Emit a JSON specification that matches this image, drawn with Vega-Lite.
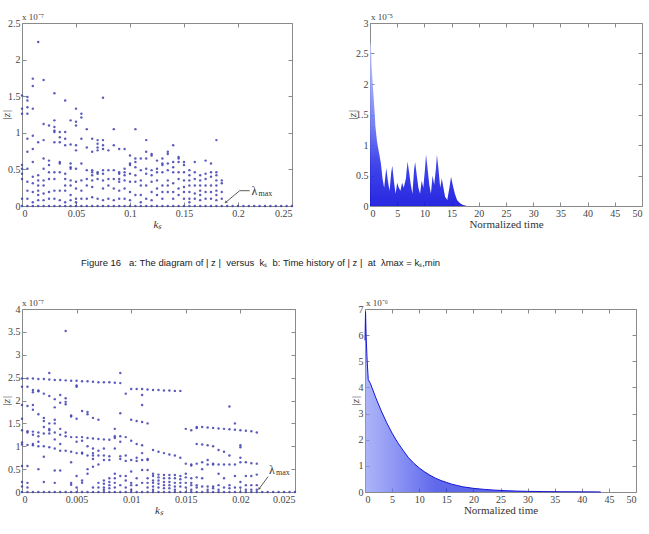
{
  "$schema": "https://vega.github.io/schema/vega-lite/v6.json",
  "padding": {"left": 0, "top": 12, "right": 0, "bottom": 0},
  "background": "white",
  "config": {
    "view": {"stroke": "#8a8a8a", "strokeWidth": 1},
    "axis": {"labelFont": "Liberation Serif", "labelFontSize": 10, "labelColor": "#444", "tickColor": "#8a8a8a", "domain": false, "grid": false, "tickSize": -4, "labelPadding": 6.5, "titleFont": "Liberation Serif", "titleFontSize": 11, "titleFontWeight": "normal", "titleColor": "#333", "titlePadding": 0, "format": "~g"},
    "axisY": {"titlePadding": -2, "labelPadding": 6},
    "text": {"font": "Liberation Serif"}
  },
  "datasets": {
    "tl": [
      {"k":0,"z":1.51},{"k":0,"z":1.33},{"k":0,"z":1.26},{"k":0,"z":0.56},{"k":0,"z":0.51},{"k":0,"z":0.44},{"k":0,"z":0.37},{"k":0,"z":0.10},
      {"k":0.005,"z":1.49},{"k":0.005,"z":1.44},{"k":0.005,"z":1.35},{"k":0.005,"z":1.26},{"k":0.005,"z":0.92},{"k":0.005,"z":0.74},{"k":0.005,"z":0.51},{"k":0.005,"z":0.33},{"k":0.005,"z":0.21},{"k":0.005,"z":0.10},
      {"k":0.01,"z":1.74},{"k":0.01,"z":1.64},{"k":0.01,"z":1.33},{"k":0.01,"z":0.96},{"k":0.01,"z":0.78},{"k":0.01,"z":0.60},{"k":0.01,"z":0.40},{"k":0.01,"z":0.31},{"k":0.01,"z":0.19},{"k":0.01,"z":0.05},
      {"k":0.015,"z":2.24},{"k":0.015,"z":0.87},{"k":0.015,"z":0.42},{"k":0.015,"z":0.35},{"k":0.015,"z":0.28},{"k":0.015,"z":0.21},{"k":0.015,"z":0.15},{"k":0.015,"z":0.08},
      {"k":0.02,"z":1.72},{"k":0.02,"z":1.12},{"k":0.02,"z":0.90},{"k":0.02,"z":0.65},{"k":0.02,"z":0.51},{"k":0.02,"z":0.35},{"k":0.02,"z":0.28},{"k":0.02,"z":0.17},{"k":0.02,"z":0.08},
      {"k":0.025,"z":1.10},{"k":0.025,"z":0.62},{"k":0.025,"z":0.56},{"k":0.025,"z":0.46},{"k":0.025,"z":0.37},{"k":0.025,"z":0.19},{"k":0.025,"z":0.10},
      {"k":0.03,"z":1.54},{"k":0.03,"z":1.17},{"k":0.03,"z":1.08},{"k":0.03,"z":1.03},{"k":0.03,"z":1.01},{"k":0.03,"z":0.87},{"k":0.03,"z":0.46},{"k":0.03,"z":0.37},{"k":0.03,"z":0.21},{"k":0.03,"z":0.10},
      {"k":0.035,"z":1.01},{"k":0.035,"z":0.94},{"k":0.035,"z":0.87},{"k":0.035,"z":0.60},{"k":0.035,"z":0.58},{"k":0.035,"z":0.46},{"k":0.035,"z":0.21},{"k":0.035,"z":0.08},
      {"k":0.04,"z":1.44},{"k":0.04,"z":1.01},{"k":0.04,"z":0.92},{"k":0.04,"z":0.83},{"k":0.04,"z":0.44},{"k":0.04,"z":0.37},{"k":0.04,"z":0.28},{"k":0.04,"z":0.21},{"k":0.04,"z":0.05},
      {"k":0.045,"z":1.17},{"k":0.045,"z":0.84},{"k":0.045,"z":0.58},{"k":0.045,"z":0.53},{"k":0.045,"z":0.51},{"k":0.045,"z":0.35},{"k":0.045,"z":0.28},{"k":0.045,"z":0.15},{"k":0.045,"z":0.08},
      {"k":0.05,"z":1.33},{"k":0.05,"z":1.15},{"k":0.05,"z":1.10},{"k":0.05,"z":0.83},{"k":0.05,"z":0.76},{"k":0.05,"z":0.51},{"k":0.05,"z":0.33},{"k":0.05,"z":0.24},{"k":0.05,"z":0.10},{"k":0.05,"z":0.05},
      {"k":0.055,"z":1.26},{"k":0.055,"z":1.21},{"k":0.055,"z":0.92},{"k":0.055,"z":0.58},{"k":0.055,"z":0.35},{"k":0.055,"z":0.21},{"k":0.055,"z":0.10},
      {"k":0.06,"z":1.05},{"k":0.06,"z":0.80},{"k":0.06,"z":0.49},{"k":0.06,"z":0.37},{"k":0.06,"z":0.28},{"k":0.06,"z":0.10},
      {"k":0.065,"z":0.92},{"k":0.065,"z":0.74},{"k":0.065,"z":0.49},{"k":0.065,"z":0.46},{"k":0.065,"z":0.42},{"k":0.065,"z":0.35},{"k":0.065,"z":0.26},{"k":0.065,"z":0.12},
      {"k":0.07,"z":0.90},{"k":0.07,"z":0.85},{"k":0.07,"z":0.80},{"k":0.07,"z":0.76},{"k":0.07,"z":0.46},{"k":0.07,"z":0.44},{"k":0.07,"z":0.37},{"k":0.07,"z":0.10},
      {"k":0.075,"z":1.48},{"k":0.075,"z":0.90},{"k":0.075,"z":0.83},{"k":0.075,"z":0.78},{"k":0.075,"z":0.49},{"k":0.075,"z":0.44},{"k":0.075,"z":0.35},{"k":0.075,"z":0.24},{"k":0.075,"z":0.08},
      {"k":0.08,"z":0.76},{"k":0.08,"z":0.49},{"k":0.08,"z":0.37},{"k":0.08,"z":0.28},{"k":0.08,"z":0.10},
      {"k":0.085,"z":1.05},{"k":0.085,"z":0.83},{"k":0.085,"z":0.49},{"k":0.085,"z":0.37},{"k":0.085,"z":0.24},{"k":0.085,"z":0.08},
      {"k":0.09,"z":0.78},{"k":0.09,"z":0.46},{"k":0.09,"z":0.44},{"k":0.09,"z":0.37},{"k":0.09,"z":0.33},{"k":0.09,"z":0.21},{"k":0.09,"z":0.10},
      {"k":0.095,"z":0.78},{"k":0.095,"z":0.51},{"k":0.095,"z":0.46},{"k":0.095,"z":0.42},{"k":0.095,"z":0.35},{"k":0.095,"z":0.24},{"k":0.095,"z":0.10},
      {"k":0.1,"z":0.69},{"k":0.1,"z":0.58},{"k":0.1,"z":0.56},{"k":0.1,"z":0.44},{"k":0.1,"z":0.33},{"k":0.1,"z":0.19},{"k":0.1,"z":0.08},
      {"k":0.105,"z":1.05},{"k":0.105,"z":0.65},{"k":0.105,"z":0.60},{"k":0.105,"z":0.53},{"k":0.105,"z":0.42},{"k":0.105,"z":0.33},{"k":0.105,"z":0.15},
      {"k":0.11,"z":0.65},{"k":0.11,"z":0.49},{"k":0.11,"z":0.35},{"k":0.11,"z":0.28},{"k":0.11,"z":0.15},{"k":0.11,"z":0.05},
      {"k":0.115,"z":0.90},{"k":0.115,"z":0.74},{"k":0.115,"z":0.65},{"k":0.115,"z":0.51},{"k":0.115,"z":0.44},{"k":0.115,"z":0.28},{"k":0.115,"z":0.10},
      {"k":0.12,"z":0.71},{"k":0.12,"z":0.69},{"k":0.12,"z":0.49},{"k":0.12,"z":0.42},{"k":0.12,"z":0.33},{"k":0.12,"z":0.19},{"k":0.12,"z":0.08},
      {"k":0.125,"z":0.62},{"k":0.125,"z":0.51},{"k":0.125,"z":0.46},{"k":0.125,"z":0.35},{"k":0.125,"z":0.24},{"k":0.125,"z":0.15},
      {"k":0.13,"z":0.65},{"k":0.13,"z":0.58},{"k":0.13,"z":0.56},{"k":0.13,"z":0.46},{"k":0.13,"z":0.28},{"k":0.13,"z":0.19},{"k":0.13,"z":0.10},
      {"k":0.135,"z":0.74},{"k":0.135,"z":0.71},{"k":0.135,"z":0.58},{"k":0.135,"z":0.49},{"k":0.135,"z":0.35},{"k":0.135,"z":0.28},{"k":0.135,"z":0.19},
      {"k":0.14,"z":0.83},{"k":0.14,"z":0.60},{"k":0.14,"z":0.53},{"k":0.14,"z":0.46},{"k":0.14,"z":0.31},{"k":0.14,"z":0.19},{"k":0.14,"z":0.10},
      {"k":0.145,"z":0.67},{"k":0.145,"z":0.65},{"k":0.145,"z":0.60},{"k":0.145,"z":0.46},{"k":0.145,"z":0.37},{"k":0.145,"z":0.24},{"k":0.145,"z":0.15},
      {"k":0.15,"z":0.60},{"k":0.15,"z":0.56},{"k":0.15,"z":0.46},{"k":0.15,"z":0.35},{"k":0.15,"z":0.26},{"k":0.15,"z":0.19},{"k":0.15,"z":0.10},
      {"k":0.155,"z":0.49},{"k":0.155,"z":0.42},{"k":0.155,"z":0.35},{"k":0.155,"z":0.28},{"k":0.155,"z":0.19},{"k":0.155,"z":0.10},{"k":0.155,"z":0.05},
      {"k":0.16,"z":0.60},{"k":0.16,"z":0.46},{"k":0.16,"z":0.37},{"k":0.16,"z":0.28},{"k":0.16,"z":0.17},{"k":0.16,"z":0.10},
      {"k":0.165,"z":0.42},{"k":0.165,"z":0.35},{"k":0.165,"z":0.28},{"k":0.165,"z":0.21},{"k":0.165,"z":0.15},{"k":0.165,"z":0.08},
      {"k":0.17,"z":0.62},{"k":0.17,"z":0.44},{"k":0.17,"z":0.37},{"k":0.17,"z":0.28},{"k":0.17,"z":0.19},{"k":0.17,"z":0.10},
      {"k":0.175,"z":0.58},{"k":0.175,"z":0.46},{"k":0.175,"z":0.40},{"k":0.175,"z":0.28},{"k":0.175,"z":0.19},{"k":0.175,"z":0.10},
      {"k":0.18,"z":0.90},{"k":0.18,"z":0.46},{"k":0.18,"z":0.42},{"k":0.18,"z":0.35},{"k":0.18,"z":0.28},{"k":0.18,"z":0.21},{"k":0.18,"z":0.15},{"k":0.18,"z":0.08},
      {"k":0.185,"z":0.35},{"k":0.185,"z":0.31},{"k":0.185,"z":0.19},{"k":0.185,"z":0.10},
      {"k":0,"z":0},{"k":0.005,"z":0},{"k":0.01,"z":0},{"k":0.015,"z":0},{"k":0.02,"z":0},{"k":0.025,"z":0},{"k":0.03,"z":0},{"k":0.035,"z":0},{"k":0.04,"z":0},{"k":0.045,"z":0},
      {"k":0.05,"z":0},{"k":0.055,"z":0},{"k":0.06,"z":0},{"k":0.065,"z":0},{"k":0.07,"z":0},{"k":0.075,"z":0},{"k":0.08,"z":0},{"k":0.085,"z":0},{"k":0.09,"z":0},{"k":0.095,"z":0},
      {"k":0.1,"z":0},{"k":0.105,"z":0},{"k":0.11,"z":0},{"k":0.115,"z":0},{"k":0.12,"z":0},{"k":0.125,"z":0},{"k":0.13,"z":0},{"k":0.135,"z":0},{"k":0.14,"z":0},{"k":0.145,"z":0},
      {"k":0.15,"z":0},{"k":0.155,"z":0},{"k":0.16,"z":0},{"k":0.165,"z":0},{"k":0.17,"z":0},{"k":0.175,"z":0},{"k":0.18,"z":0},{"k":0.185,"z":0},{"k":0.19,"z":0},{"k":0.195,"z":0},
      {"k":0.2,"z":0},{"k":0.205,"z":0},{"k":0.21,"z":0},{"k":0.215,"z":0},{"k":0.22,"z":0},{"k":0.225,"z":0},{"k":0.23,"z":0},{"k":0.235,"z":0},{"k":0.24,"z":0},{"k":0.245,"z":0},{"k":0.25,"z":0}
    ],
    "bl": [
      {"k":0,"z":2.48},{"k":0,"z":2.3},{"k":0,"z":1.9},{"k":0,"z":1.6},{"k":0,"z":1.35},{"k":0,"z":1.08},{"k":0,"z":1.04},{"k":0,"z":0.57},{"k":0,"z":0.22},{"k":0,"z":0.12},
      {"k":0.0005,"z":2.48},{"k":0.0005,"z":2.3},{"k":0.0005,"z":1.88},{"k":0.0005,"z":1.33},{"k":0.0005,"z":1.3},{"k":0.0005,"z":1.03},{"k":0.0005,"z":0.57},{"k":0.0005,"z":0.2},{"k":0.0005,"z":0.1},
      {"k":0.001,"z":2.48},{"k":0.001,"z":2.23},{"k":0.001,"z":2.18},{"k":0.001,"z":1.9},{"k":0.001,"z":1.8},{"k":0.001,"z":1.32},{"k":0.001,"z":1.25},{"k":0.001,"z":1.05},{"k":0.001,"z":1.02},
      {"k":0.0015,"z":2.47},{"k":0.0015,"z":2.22},{"k":0.0015,"z":2.2},{"k":0.0015,"z":1.7},{"k":0.0015,"z":1.3},{"k":0.0015,"z":1.22},{"k":0.0015,"z":1.1},{"k":0.0015,"z":1.0},{"k":0.0015,"z":0.5},
      {"k":0.002,"z":2.47},{"k":0.002,"z":2.15},{"k":0.002,"z":1.62},{"k":0.002,"z":1.55},{"k":0.002,"z":1.42},{"k":0.002,"z":1.28},{"k":0.002,"z":1.0},{"k":0.002,"z":0.77},{"k":0.002,"z":0.22},
      {"k":0.0025,"z":2.6},{"k":0.0025,"z":2.46},{"k":0.0025,"z":2.1},{"k":0.0025,"z":1.5},{"k":0.0025,"z":1.38},{"k":0.0025,"z":1.35},{"k":0.0025,"z":1.28},{"k":0.0025,"z":0.98},
      {"k":0.003,"z":2.45},{"k":0.003,"z":2.03},{"k":0.003,"z":1.85},{"k":0.003,"z":1.58},{"k":0.003,"z":1.5},{"k":0.003,"z":1.3},{"k":0.003,"z":1.15},{"k":0.003,"z":0.95},{"k":0.003,"z":0.47},{"k":0.003,"z":0.2},
      {"k":0.0035,"z":2.45},{"k":0.0035,"z":2.12},{"k":0.0035,"z":1.95},{"k":0.0035,"z":1.38},{"k":0.0035,"z":1.25},{"k":0.0035,"z":1.05},{"k":0.0035,"z":0.9},{"k":0.0035,"z":0.47},
      {"k":0.004,"z":3.52},{"k":0.004,"z":2.44},{"k":0.004,"z":2.05},{"k":0.004,"z":1.97},{"k":0.004,"z":1.92},{"k":0.004,"z":1.3},{"k":0.004,"z":1.22},{"k":0.004,"z":0.9},
      {"k":0.0045,"z":2.43},{"k":0.0045,"z":1.67},{"k":0.0045,"z":1.65},{"k":0.0045,"z":1.2},{"k":0.0045,"z":0.88},{"k":0.0045,"z":0.65},{"k":0.0045,"z":0.2},{"k":0.0045,"z":0.16},
      {"k":0.005,"z":2.43},{"k":0.005,"z":2.33},{"k":0.005,"z":2.3},{"k":0.005,"z":1.6},{"k":0.005,"z":1.2},{"k":0.005,"z":1.1},{"k":0.005,"z":0.85},{"k":0.005,"z":0.35},{"k":0.005,"z":0.1},
      {"k":0.0055,"z":2.42},{"k":0.0055,"z":1.77},{"k":0.0055,"z":1.2},{"k":0.0055,"z":1.12},{"k":0.0055,"z":0.86},{"k":0.0055,"z":0.84},{"k":0.0055,"z":0.25},{"k":0.0055,"z":0.2},
      {"k":0.006,"z":2.42},{"k":0.006,"z":1.75},{"k":0.006,"z":1.7},{"k":0.006,"z":1.18},{"k":0.006,"z":1.0},{"k":0.006,"z":0.8},{"k":0.006,"z":0.5},{"k":0.006,"z":0.4},
      {"k":0.0065,"z":2.41},{"k":0.0065,"z":1.62},{"k":0.0065,"z":1.17},{"k":0.0065,"z":0.95},{"k":0.0065,"z":0.85},{"k":0.0065,"z":0.8},{"k":0.0065,"z":0.72},{"k":0.0065,"z":0.55},{"k":0.0065,"z":0.1},
      {"k":0.007,"z":2.4},{"k":0.007,"z":1.58},{"k":0.007,"z":1.16},{"k":0.007,"z":0.9},{"k":0.007,"z":0.8},{"k":0.007,"z":0.6},{"k":0.007,"z":0.2},{"k":0.007,"z":0.1},
      {"k":0.0075,"z":2.4},{"k":0.0075,"z":1.15},{"k":0.0075,"z":0.95},{"k":0.0075,"z":0.8},{"k":0.0075,"z":0.7},{"k":0.0075,"z":0.25},{"k":0.0075,"z":0.18},{"k":0.0075,"z":0.1},{"k":0.0075,"z":0.05},
      {"k":0.008,"z":2.4},{"k":0.008,"z":1.14},{"k":0.008,"z":0.78},{"k":0.008,"z":0.7},{"k":0.008,"z":0.3},{"k":0.008,"z":0.22},{"k":0.008,"z":0.15},{"k":0.008,"z":0.08},
      {"k":0.0085,"z":2.39},{"k":0.0085,"z":1.38},{"k":0.0085,"z":1.22},{"k":0.0085,"z":1.18},{"k":0.0085,"z":0.95},{"k":0.0085,"z":0.4},{"k":0.0085,"z":0.3},{"k":0.0085,"z":0.2},{"k":0.0085,"z":0.1},
      {"k":0.009,"z":2.6},{"k":0.009,"z":2.38},{"k":0.009,"z":1.72},{"k":0.009,"z":1.22},{"k":0.009,"z":1.1},{"k":0.009,"z":0.78},{"k":0.009,"z":0.72},{"k":0.009,"z":0.35},{"k":0.009,"z":0.15},
      {"k":0.0095,"z":2.15},{"k":0.0095,"z":1.2},{"k":0.0095,"z":0.8},{"k":0.0095,"z":0.68},{"k":0.0095,"z":0.35},{"k":0.0095,"z":0.25},{"k":0.0095,"z":0.1},
      {"k":0.01,"z":2.25},{"k":0.01,"z":1.58},{"k":0.01,"z":1.12},{"k":0.01,"z":0.7},{"k":0.01,"z":0.45},{"k":0.01,"z":0.2},{"k":0.01,"z":0.15},{"k":0.01,"z":0.05},
      {"k":0.0105,"z":2.25},{"k":0.0105,"z":1.55},{"k":0.0105,"z":1.05},{"k":0.0105,"z":0.75},{"k":0.0105,"z":0.68},{"k":0.0105,"z":0.3},{"k":0.0105,"z":0.15},
      {"k":0.011,"z":2.25},{"k":0.011,"z":2.12},{"k":0.011,"z":1.9},{"k":0.011,"z":1.53},{"k":0.011,"z":1.02},{"k":0.011,"z":0.85},{"k":0.011,"z":0.7},{"k":0.011,"z":0.48},{"k":0.011,"z":0.2},
      {"k":0.0115,"z":2.24},{"k":0.0115,"z":1.5},{"k":0.0115,"z":0.72},{"k":0.0115,"z":0.7},{"k":0.0115,"z":0.48},{"k":0.0115,"z":0.3},{"k":0.0115,"z":0.2},{"k":0.0115,"z":0.1},
      {"k":0.012,"z":2.23},{"k":0.012,"z":0.92},{"k":0.012,"z":0.4},{"k":0.012,"z":0.35},{"k":0.012,"z":0.25},{"k":0.012,"z":0.2},{"k":0.012,"z":0.12},{"k":0.012,"z":0.05},
      {"k":0.0125,"z":2.23},{"k":0.0125,"z":0.88},{"k":0.0125,"z":0.38},{"k":0.0125,"z":0.32},{"k":0.0125,"z":0.25},{"k":0.0125,"z":0.18},{"k":0.0125,"z":0.1},
      {"k":0.013,"z":2.22},{"k":0.013,"z":0.85},{"k":0.013,"z":0.37},{"k":0.013,"z":0.3},{"k":0.013,"z":0.22},{"k":0.013,"z":0.15},{"k":0.013,"z":0.08},
      {"k":0.0135,"z":2.22},{"k":0.0135,"z":0.82},{"k":0.0135,"z":0.37},{"k":0.0135,"z":0.3},{"k":0.0135,"z":0.22},{"k":0.0135,"z":0.15},{"k":0.0135,"z":0.08},
      {"k":0.014,"z":2.21},{"k":0.014,"z":0.8},{"k":0.014,"z":0.37},{"k":0.014,"z":0.3},{"k":0.014,"z":0.2},{"k":0.014,"z":0.12},{"k":0.014,"z":0.05},
      {"k":0.0145,"z":2.21},{"k":0.0145,"z":0.75},{"k":0.0145,"z":0.35},{"k":0.0145,"z":0.28},{"k":0.0145,"z":0.2},{"k":0.0145,"z":0.12},
      {"k":0.015,"z":1.38},{"k":0.015,"z":0.62},{"k":0.015,"z":0.4},{"k":0.015,"z":0.32},{"k":0.015,"z":0.2},{"k":0.015,"z":0.1},
      {"k":0.0155,"z":1.35},{"k":0.0155,"z":0.6},{"k":0.0155,"z":0.58},{"k":0.0155,"z":0.3},{"k":0.0155,"z":0.2},{"k":0.0155,"z":0.15},{"k":0.0155,"z":0.05},
      {"k":0.016,"z":1.42},{"k":0.016,"z":1.4},{"k":0.016,"z":1.05},{"k":0.016,"z":0.62},{"k":0.016,"z":0.32},{"k":0.016,"z":0.15},{"k":0.016,"z":0.1},
      {"k":0.0165,"z":1.42},{"k":0.0165,"z":1.04},{"k":0.0165,"z":0.65},{"k":0.0165,"z":0.5},{"k":0.0165,"z":0.3},{"k":0.0165,"z":0.12},
      {"k":0.017,"z":1.41},{"k":0.017,"z":1.02},{"k":0.017,"z":0.7},{"k":0.017,"z":0.6},{"k":0.017,"z":0.12},{"k":0.017,"z":0.05},
      {"k":0.0175,"z":1.4},{"k":0.0175,"z":1.0},{"k":0.0175,"z":0.62},{"k":0.0175,"z":0.6},{"k":0.0175,"z":0.12},{"k":0.0175,"z":0.08},
      {"k":0.018,"z":1.39},{"k":0.018,"z":0.92},{"k":0.018,"z":0.6},{"k":0.018,"z":0.4},{"k":0.018,"z":0.15},{"k":0.018,"z":0.05},
      {"k":0.0185,"z":1.38},{"k":0.0185,"z":0.88},{"k":0.0185,"z":0.6},{"k":0.0185,"z":0.3},{"k":0.0185,"z":0.1},
      {"k":0.019,"z":1.87},{"k":0.019,"z":1.37},{"k":0.019,"z":0.8},{"k":0.019,"z":0.6},{"k":0.019,"z":0.15},{"k":0.019,"z":0.08},
      {"k":0.0195,"z":1.5},{"k":0.0195,"z":1.36},{"k":0.0195,"z":0.6},{"k":0.0195,"z":0.35},{"k":0.0195,"z":0.1},
      {"k":0.02,"z":1.35},{"k":0.02,"z":1.02},{"k":0.02,"z":0.98},{"k":0.02,"z":0.75},{"k":0.02,"z":0.65},{"k":0.02,"z":0.22},{"k":0.02,"z":0.1},
      {"k":0.0205,"z":1.34},{"k":0.0205,"z":0.65},{"k":0.0205,"z":0.35},{"k":0.0205,"z":0.15},{"k":0.0205,"z":0.05},
      {"k":0.021,"z":1.33},{"k":0.021,"z":0.63},{"k":0.021,"z":0.35},{"k":0.021,"z":0.15},{"k":0.021,"z":0.05},
      {"k":0.0215,"z":1.3},{"k":0.0215,"z":0.62},{"k":0.0215,"z":0.38},{"k":0.0215,"z":0.15},{"k":0.0215,"z":0.05},
      {"k":0,"z":0},{"k":0.0005,"z":0},{"k":0.001,"z":0},{"k":0.0015,"z":0},{"k":0.002,"z":0},{"k":0.0025,"z":0},{"k":0.003,"z":0},{"k":0.0035,"z":0},{"k":0.004,"z":0},{"k":0.0045,"z":0},
      {"k":0.005,"z":0},{"k":0.0055,"z":0},{"k":0.006,"z":0},{"k":0.0065,"z":0},{"k":0.007,"z":0},{"k":0.0075,"z":0},{"k":0.008,"z":0},{"k":0.0085,"z":0},{"k":0.009,"z":0},{"k":0.0095,"z":0},
      {"k":0.01,"z":0},{"k":0.0105,"z":0},{"k":0.011,"z":0},{"k":0.0115,"z":0},{"k":0.012,"z":0},{"k":0.0125,"z":0},{"k":0.013,"z":0},{"k":0.0135,"z":0},{"k":0.014,"z":0},{"k":0.0145,"z":0},
      {"k":0.015,"z":0},{"k":0.0155,"z":0},{"k":0.016,"z":0},{"k":0.0165,"z":0},{"k":0.017,"z":0},{"k":0.0175,"z":0},{"k":0.018,"z":0},{"k":0.0185,"z":0},{"k":0.019,"z":0},{"k":0.0195,"z":0},
      {"k":0.02,"z":0},{"k":0.0205,"z":0},{"k":0.021,"z":0},{"k":0.0215,"z":0},{"k":0.022,"z":0},{"k":0.0225,"z":0},{"k":0.023,"z":0},{"k":0.0235,"z":0},{"k":0.024,"z":0},{"k":0.0245,"z":0},{"k":0.025,"z":0}
    ],
    "tr": [
      {"t":0,"z":2.6},{"t":0.15,"z":2.7},{"t":0.3,"z":2.3},{"t":0.5,"z":2.0},{"t":0.8,"z":1.6},{"t":1.0,"z":1.3},{"t":1.3,"z":1.05},{"t":1.6,"z":0.9},{"t":2.0,"z":0.7},{"t":2.3,"z":0.45},
      {"t":2.6,"z":0.3},{"t":2.9,"z":0.55},{"t":3.0,"z":0.62},{"t":3.3,"z":0.4},{"t":3.6,"z":0.25},{"t":3.9,"z":0.55},{"t":4.1,"z":0.66},{"t":4.4,"z":0.4},{"t":4.7,"z":0.2},{"t":5.0,"z":0.38},
      {"t":5.3,"z":0.3},{"t":5.6,"z":0.25},{"t":5.9,"z":0.38},{"t":6.2,"z":0.3},{"t":6.6,"z":0.45},{"t":6.9,"z":0.73},{"t":7.2,"z":0.55},{"t":7.5,"z":0.35},{"t":7.8,"z":0.2},{"t":8.1,"z":0.6},
      {"t":8.3,"z":0.72},{"t":8.6,"z":0.5},{"t":8.9,"z":0.3},{"t":9.2,"z":0.2},{"t":9.5,"z":0.42},{"t":9.8,"z":0.3},{"t":10.1,"z":0.6},{"t":10.3,"z":0.85},{"t":10.6,"z":0.6},{"t":10.9,"z":0.35},
      {"t":11.2,"z":0.2},{"t":11.5,"z":0.5},{"t":11.8,"z":0.35},{"t":12.1,"z":0.6},{"t":12.3,"z":0.84},{"t":12.6,"z":0.6},{"t":12.9,"z":0.3},{"t":13.2,"z":0.45},{"t":13.5,"z":0.3},{"t":13.8,"z":0.15},
      {"t":14.2,"z":0.1},{"t":14.6,"z":0.3},{"t":14.9,"z":0.48},{"t":15.2,"z":0.35},{"t":15.6,"z":0.2},{"t":16.0,"z":0.1},{"t":16.5,"z":0.05},{"t":17.0,"z":0.02},{"t":17.8,"z":0}
    ],
    "br": [
      {"t":0,"z":5.8},{"t":0.1,"z":6.9},{"t":0.2,"z":6.0},{"t":0.4,"z":5.0},{"t":0.6,"z":4.3},{"t":1,"z":4.15},{"t":2,"z":3.6},{"t":3,"z":3.1},{"t":4,"z":2.65},{"t":5,"z":2.25},
      {"t":6,"z":1.9},{"t":7,"z":1.6},{"t":8,"z":1.32},{"t":9,"z":1.1},{"t":10,"z":0.92},{"t":11,"z":0.77},{"t":12,"z":0.64},{"t":13,"z":0.53},{"t":14,"z":0.44},{"t":15,"z":0.37},
      {"t":16,"z":0.3},{"t":17,"z":0.25},{"t":18,"z":0.2},{"t":20,"z":0.14},{"t":22,"z":0.1},{"t":24,"z":0.07},{"t":26,"z":0.05},{"t":28,"z":0.035},{"t":30,"z":0.025},{"t":33,"z":0.015},
      {"t":36,"z":0.01},{"t":40,"z":0.006},{"t":43,"z":0.004},{"t":43.5,"z":0}
    ]
  },
  "vconcat": [
    {
      "title": {"text": "Figure 16\u00a0\u00a0\u00a0a: The diagram of | z |\u00a0 versus\u00a0 kₛ\u00a0 b: Time history of | z |\u00a0 at\u00a0 λmax = kₛ,min", "orient": "bottom", "anchor": "start", "dx": 81, "offset": 28, "font": "Liberation Sans", "fontSize": 9.5, "fontWeight": "normal", "color": "#222"},
      "spacing": 52,
      "hconcat": [
        {
          "width": 270, "height": 183,
          "resolve": {"axis": {"x": "independent", "y": "independent"}},
          "layer": [
            {
              "data": {"name": "tl"},
              "mark": {"type": "point", "filled": true, "size": 6, "color": "#4040b0", "opacity": 0.85},
              "encoding": {
                "x": {"field": "k", "type": "quantitative", "scale": {"domain": [0, 0.25], "nice": false}, "axis": {"values": [0, 0.05, 0.1, 0.15, 0.2, 0.25], "title": "kₛ", "titleFontStyle": "italic"}},
                "y": {"field": "z", "type": "quantitative", "scale": {"domain": [0, 2.5], "nice": false}, "axis": {"values": [0, 0.5, 1, 1.5, 2, 2.5], "title": "|z|", "titleFontStyle": "italic", "titlePadding": -4}}
              }
            },
            {
              "data": {"values": [{"k": 0, "z": 2.5, "s": "x 10⁻⁷"}]},
              "mark": {"type": "text", "align": "left", "baseline": "bottom", "dy": -1, "fontSize": 9, "color": "#444"},
              "encoding": {
                "x": {"field": "k", "type": "quantitative", "axis": {"orient": "top", "labels": false, "title": null, "values": [0, 0.05, 0.1, 0.15, 0.2, 0.25]}},
                "y": {"field": "z", "type": "quantitative", "axis": {"orient": "right", "labels": false, "title": null, "values": [0, 0.5, 1, 1.5, 2, 2.5]}},
                "text": {"field": "s"}
              }
            },
            {
              "data": {"values": [{"k": 0.2108, "z": 0.209, "o": 1}, {"k": 0.2016, "z": 0.209, "o": 2}, {"k": 0.1886, "z": 0.05, "o": 3}]},
              "mark": {"type": "line", "color": "#333", "strokeWidth": 0.8},
              "encoding": {"x": {"field": "k", "type": "quantitative", "axis": null}, "y": {"field": "z", "type": "quantitative", "axis": null}, "order": {"field": "o"}}
            },
            {
              "data": {"values": [{"k": 0.1886, "z": 0.05}]},
              "mark": {"type": "point", "shape": "triangle-up", "filled": true, "size": 10, "angle": 230, "color": "#333"},
              "encoding": {"x": {"field": "k", "type": "quantitative", "axis": null}, "y": {"field": "z", "type": "quantitative", "axis": null}}
            },
            {
              "data": {"values": [{"k": 0.2125, "z": 0.209}]},
              "layer": [
                {"mark": {"type": "text", "text": "λ", "align": "left", "baseline": "middle", "fontSize": 12, "color": "#333"}, "encoding": {"x": {"field": "k", "type": "quantitative", "axis": null}, "y": {"field": "z", "type": "quantitative", "axis": null}}},
                {"mark": {"type": "text", "text": "max", "align": "left", "baseline": "middle", "fontSize": 8, "dx": 7, "dy": 3, "color": "#333"}, "encoding": {"x": {"field": "k", "type": "quantitative", "axis": null}, "y": {"field": "z", "type": "quantitative", "axis": null}}}
              ]
            }
          ]
        },
        {
          "width": 272, "height": 183,
          "resolve": {"axis": {"x": "independent", "y": "independent"}},
          "layer": [
            {
              "data": {"name": "tr"},
              "mark": {"type": "area", "opacity": 0.9, "color": {"gradient": "linear", "x1": 0, "y1": 0, "x2": 0, "y2": 1, "stops": [{"offset": 0, "color": "#c4cbff"}, {"offset": 0.5, "color": "#6874f2"}, {"offset": 0.75, "color": "#2a30e8"}, {"offset": 1, "color": "#1010dd"}]}},
              "encoding": {
                "x": {"field": "t", "type": "quantitative", "scale": {"domain": [0, 50], "nice": false}, "axis": {"values": [0, 5, 10, 15, 20, 25, 30, 35, 40, 45, 50], "title": "Normalized time"}},
                "y": {"field": "z", "type": "quantitative", "scale": {"domain": [0, 3], "nice": false}, "axis": {"values": [0, 0.5, 1, 1.5, 2, 2.5, 3], "title": "|z|", "titleFontStyle": "italic"}}
              }
            },
            {
              "data": {"values": [{"t": 0, "z": 3, "s": "x 10⁻⁵"}]},
              "mark": {"type": "text", "align": "left", "baseline": "bottom", "dy": -1, "dx": 1, "fontSize": 9, "color": "#444"},
              "encoding": {
                "x": {"field": "t", "type": "quantitative", "axis": {"orient": "top", "labels": false, "title": null, "values": [0, 5, 10, 15, 20, 25, 30, 35, 40, 45, 50]}},
                "y": {"field": "z", "type": "quantitative", "axis": {"orient": "right", "labels": false, "title": null, "values": [0, 0.5, 1, 1.5, 2, 2.5, 3]}},
                "text": {"field": "s"}
              }
            }
          ]
        }
      ]
    },
    {
      "spacing": 51,
      "hconcat": [
        {
          "width": 273, "height": 183,
          "resolve": {"axis": {"x": "independent", "y": "independent"}},
          "layer": [
            {
              "data": {"name": "bl"},
              "mark": {"type": "point", "filled": true, "size": 6, "color": "#4040b0", "opacity": 0.85},
              "encoding": {
                "x": {"field": "k", "type": "quantitative", "scale": {"domain": [0, 0.025], "nice": false}, "axis": {"values": [0, 0.005, 0.01, 0.015, 0.02, 0.025], "title": "kₛ", "titleFontStyle": "italic"}},
                "y": {"field": "z", "type": "quantitative", "scale": {"domain": [0, 4], "nice": false}, "axis": {"values": [0, 0.5, 1, 1.5, 2, 2.5, 3, 3.5, 4], "title": "|z|", "titleFontStyle": "italic", "titlePadding": -4}}
              }
            },
            {
              "data": {"values": [{"k": 0, "z": 4, "s": "x 10⁻⁷"}]},
              "mark": {"type": "text", "align": "left", "baseline": "bottom", "dy": -1, "fontSize": 9, "color": "#444"},
              "encoding": {
                "x": {"field": "k", "type": "quantitative", "axis": {"orient": "top", "labels": false, "title": null, "values": [0, 0.005, 0.01, 0.015, 0.02, 0.025]}},
                "y": {"field": "z", "type": "quantitative", "axis": {"orient": "right", "labels": false, "title": null, "values": [0, 0.5, 1, 1.5, 2, 2.5, 3, 3.5, 4]}},
                "text": {"field": "s"}
              }
            },
            {
              "data": {"values": [{"k": 0.02253, "z": 0.334, "o": 1}, {"k": 0.0217, "z": 0.066, "o": 2}]},
              "mark": {"type": "line", "color": "#333", "strokeWidth": 0.8},
              "encoding": {"x": {"field": "k", "type": "quantitative", "axis": null}, "y": {"field": "z", "type": "quantitative", "axis": null}, "order": {"field": "o"}}
            },
            {
              "data": {"values": [{"k": 0.0217, "z": 0.066}]},
              "mark": {"type": "point", "shape": "triangle-up", "filled": true, "size": 10, "angle": 216, "color": "#333"},
              "encoding": {"x": {"field": "k", "type": "quantitative", "axis": null}, "y": {"field": "z", "type": "quantitative", "axis": null}}
            },
            {
              "data": {"values": [{"k": 0.02262, "z": 0.48}]},
              "layer": [
                {"mark": {"type": "text", "text": "λ", "align": "left", "baseline": "middle", "fontSize": 12, "color": "#333"}, "encoding": {"x": {"field": "k", "type": "quantitative", "axis": null}, "y": {"field": "z", "type": "quantitative", "axis": null}}},
                {"mark": {"type": "text", "text": "max", "align": "left", "baseline": "middle", "fontSize": 8, "dx": 7, "dy": 3, "color": "#333"}, "encoding": {"x": {"field": "k", "type": "quantitative", "axis": null}, "y": {"field": "z", "type": "quantitative", "axis": null}}}
              ]
            }
          ]
        },
        {
          "width": 271, "height": 183,
          "resolve": {"axis": {"x": "independent", "y": "independent"}},
          "layer": [
            {
              "data": {"name": "br"},
              "mark": {"type": "area", "color": {"gradient": "linear", "x1": 0, "y1": 0, "x2": 1, "y2": 0, "stops": [{"offset": 0, "color": "#8a96f4"}, {"offset": 0.15, "color": "#5562ee"}, {"offset": 0.3, "color": "#1c28e2"}, {"offset": 1, "color": "#1020dd"}]}, "line": {"color": "#1515d8", "strokeWidth": 1}},
              "encoding": {
                "x": {"field": "t", "type": "quantitative", "scale": {"domain": [0, 50], "nice": false}, "axis": {"values": [0, 5, 10, 15, 20, 25, 30, 35, 40, 45, 50], "title": "Normalized time"}},
                "y": {"field": "z", "type": "quantitative", "scale": {"domain": [0, 7], "nice": false}, "axis": {"values": [0, 1, 2, 3, 4, 5, 6, 7], "title": "|z|", "titleFontStyle": "italic"}}
              }
            },
            {
              "data": {"values": [{"t": 0, "z": 7, "s": "x 10⁻⁶"}]},
              "mark": {"type": "text", "align": "left", "baseline": "bottom", "dy": -1, "dx": 1, "fontSize": 9, "color": "#444"},
              "encoding": {
                "x": {"field": "t", "type": "quantitative", "axis": {"orient": "top", "labels": false, "title": null, "values": [0, 5, 10, 15, 20, 25, 30, 35, 40, 45, 50]}},
                "y": {"field": "z", "type": "quantitative", "axis": {"orient": "right", "labels": false, "title": null, "values": [0, 1, 2, 3, 4, 5, 6, 7]}},
                "text": {"field": "s"}
              }
            }
          ]
        }
      ]
    }
  ],
  "spacing": 30
}
